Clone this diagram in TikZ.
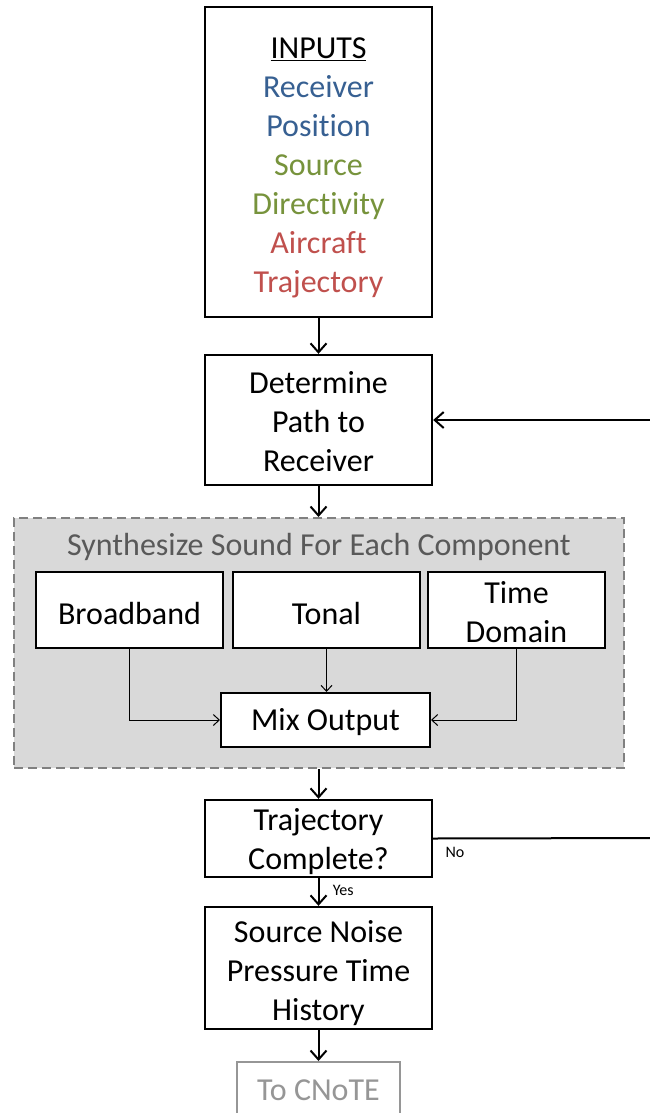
\documentclass[tikz,border=0pt]{standalone}
\usepackage{fontspec}
\setmainfont{Carlito}[RawFeature={-liga;-clig;-dlig;-calt}]
\usetikzlibrary{arrows.meta}
\definecolor{inblue}{HTML}{376092}
\definecolor{ingreen}{HTML}{77933C}
\definecolor{inred}{HTML}{C0504D}
\definecolor{grouptitle}{HTML}{595959}
\definecolor{groupfill}{HTML}{D9D9D9}
\definecolor{groupline}{HTML}{808080}
\definecolor{outgray}{HTML}{969696}
% invisible strut on the first line of a box, to set the text a little lower
\newcommand{\firstline}[1]{\rule{0pt}{#1}}
\tikzset{
  mainbox/.style={draw=black, line width=2.4pt, fill=white, align=center,
    font=\fontsize{32}{39}\selectfont, inner sep=0pt},
  subbox/.style={draw=black, line width=2pt, fill=white, align=center,
    font=\fontsize{32}{39}\selectfont, inner sep=0pt},
  flow/.style={line width=2pt, -{Straight Barb[length=9pt,width=16pt,line width=2pt]}},
  thinflow/.style={line width=1pt, -{Straight Barb[length=6pt,width=11pt,line width=1pt]}},
  loopline/.style={line width=2pt},
  small/.style={font=\fontsize{16}{19}\selectfont}
}
\begin{document}
\begin{tikzpicture}[x=1pt, y=-1pt]
\useasboundingbox (0,0) rectangle (650,1113);

% inputs
\node[mainbox, minimum width=227pt, minimum height=310pt] (inputs) at (318.5,162)
  {\firstline{33pt}\underline{INPUTS}\\
   \textcolor{inblue}{Receiver}\\
   \textcolor{inblue}{Position}\\
   \textcolor{ingreen}{Source}\\
   \textcolor{ingreen}{Directivity}\\
   \textcolor{inred}{Aircraft}\\
   \textcolor{inred}{Trajectory}};

% path determination
\node[mainbox, minimum width=227pt, minimum height=130pt] (det) at (318.5,420)
  {\firstline{25pt}Determine\\Path to\\Receiver};

% synthesis group
\node[draw=groupline, dashed, dash pattern=on 9pt off 5pt, line width=2pt, fill=groupfill,
  minimum width=610pt, minimum height=250pt, inner sep=0pt] (group) at (319,643) {};
\node[text=grouptitle, font=\fontsize{32}{39}\selectfont] (gtitle) at (319,547)
  {Synthesize Sound For Each Component};

\node[subbox, minimum width=187pt, minimum height=76pt] (bb) at (129.5,610) {\firstline{28.5pt}Broadband};
\node[subbox, minimum width=187pt, minimum height=76pt] (tonal) at (326.5,610) {\firstline{28.5pt}Tonal};
\node[subbox, minimum width=177pt, minimum height=76pt] (td) at (516.5,610) {\firstline{26pt}Time\\Domain};
\node[subbox, minimum width=209pt, minimum height=54pt] (mix) at (325.5,720) {\firstline{27pt}Mix Output};

\draw[thinflow] (bb.south) |- (mix.west);
\draw[thinflow] (tonal.south) -- (tonal.south |- mix.north);
\draw[thinflow] (td.south) |- (mix.east);

% trajectory check
\node[mainbox, minimum width=227pt, minimum height=77pt] (traj) at (318.5,838.5)
  {\firstline{29pt}Trajectory\\Complete?};

% output
\node[mainbox, minimum width=227pt, minimum height=122pt] (src) at (318.5,968)
  {\firstline{31.5pt}Source Noise\\Pressure Time\\History};
\node[draw=outgray, line width=2pt, fill=white, text=outgray,
  font=\fontsize{32}{39}\selectfont, minimum width=163pt, minimum height=66pt,
  inner sep=0pt, text depth=10pt] (cnote) at (318.5,1095) {To CNoTE};

% main flow
\draw[flow] (inputs.south) -- (det.north);
\draw[flow] (det.south) -- (det.south |- group.north);
\draw[flow] (group.south -| traj.north) -- (traj.north);
\draw[flow] (traj.south) -- node[small, right, pos=0.45, xshift=10pt] (yes) {Yes} (src.north);
\draw[flow] (src.south) -- (cnote.north);

% loop back for the next trajectory point
\coordinate (rt) at (660,838);
\coordinate (rb) at (660,420);
\draw[loopline] (traj.east) -- (rt) -- (rb);
\draw[flow] (rb) -- (det.east);
\node[small] (no) at (455,852) {No};
\end{tikzpicture}
\end{document}
